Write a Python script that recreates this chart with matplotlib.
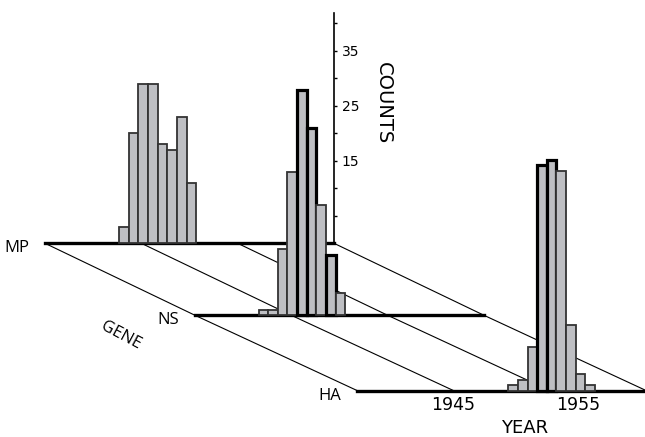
import numpy as np
import matplotlib.pyplot as plt
from matplotlib.patches import ConnectionPatch

# histogram data per gene (counts per year bin)
genes = ['MP', 'NS', 'HA']
mp_counts = [3, 20, 29, 29, 18, 17, 23, 11]
ns_counts = [1, 1, 12, 26, 41, 34, 20, 11, 4]
ha_counts = [1, 2, 8, 41, 42, 40, 12, 3, 1]
bin_starts = [1942.7, 1941.6, 1950.7]
grid_years = [1935, 1945, 1955, 1965]
count_ticks = [15, 25, 35]
count_minor = [5, 10, 20, 30, 40]
year_tick_pos = [1945, 1958]
year_tick_labels = ['1945', '1955']

# bars drawn with a heavy outline
bold_bars = [[], [4, 5, 7], [3, 4]]

W, H = 645, 437
fig = plt.figure(figsize=(W / 100, H / 100), dpi=100)

ymax = 41.8
px_count = 5.5
origins = [(45, 243.3), (195, 315.3), (357, 390.5)]
all_counts = [mp_counts, ns_counts, ha_counts]

axes = []
for gi, (x0, yb) in enumerate(origins):
    ax = fig.add_axes([x0 / W, (H - yb) / H, 289 / W, ymax * px_count / H])
    ax.set_xlim(1935, 1965)
    ax.set_ylim(0, ymax)
    ax.patch.set_visible(False)
    for s in ['top', 'left', 'right']:
        ax.spines[s].set_visible(False)
    ax.spines['bottom'].set_linewidth(2.4)
    ax.set_xticks([])
    ax.set_yticks([])

    counts = all_counts[gi]
    lefts = bin_starts[gi] + np.arange(len(counts))
    for i, (l, c) in enumerate(zip(lefts, counts)):
        if i in bold_bars[gi]:
            ec, lw = 'black', 2.3
        else:
            ec, lw = '#333333', 1.3
        ax.bar(l, c, width=1.0, align='edge', color='#bebfc3',
               edgecolor=ec, linewidth=lw, clip_on=False, zorder=3)

    ax.annotate(genes[gi], xy=(0, 0), xycoords='axes fraction',
                xytext=(-16, -5), textcoords='offset pixels',
                ha='right', va='center', fontsize=12, family='Open Sans')
    axes.append(ax)

# counts axis on the back (MP) panel
ax_mp = axes[0]
ax_mp.spines['right'].set_visible(True)
ax_mp.spines['right'].set_linewidth(1.2)
ax_mp.yaxis.tick_right()
ax_mp.set_yticks(count_ticks)
ax_mp.set_yticks(count_minor, minor=True)
ax_mp.tick_params(axis='y', which='both', direction='out', length=2,
                  width=1, pad=3.5, labelsize=10)

# year ticks on the front (HA) panel
ax_ha = axes[2]
ax_ha.set_xticks(year_tick_pos)
ax_ha.set_xticklabels(year_tick_labels)
ax_ha.tick_params(axis='x', length=0, pad=4, labelsize=12.5)

# diagonal year lines joining the panels
for upper, lower in zip(axes[:-1], axes[1:]):
    for yr in grid_years:
        con = ConnectionPatch(xyA=(yr, 0), coordsA=upper.transData,
                              xyB=(yr, 0), coordsB=lower.transData,
                              color='black', lw=0.8, clip_on=False)
        upper.add_artist(con)
        con.set_clip_on(False)

fig.text(383 / W, 1 - 103 / H, 'COUNTS', rotation=270, ha='center',
         va='center', fontsize=14)
fig.text(525 / W, 1 - 428 / H, 'YEAR', ha='center', va='center', fontsize=13)
fig.text(121 / W, 1 - 336 / H, 'GENE', rotation=-28, ha='center',
         va='center', fontsize=12, family='Open Sans')

fig.savefig('out.png', dpi=100)
